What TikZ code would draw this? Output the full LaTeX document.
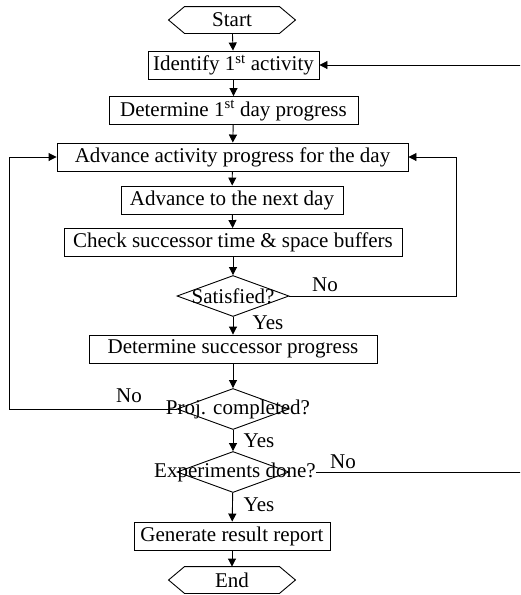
\documentclass[tikz,border=0pt]{standalone}
\usepackage{fontspec}
\setmainfont{Liberation Serif}
\usetikzlibrary{arrows.meta,shapes.geometric,calc}
\begin{document}
\begin{tikzpicture}[x=1pt,y=-1pt,
  every node/.style={font=\fontsize{21}{24}\selectfont},
  line width=0.9pt,
  box/.style={draw, minimum height=28pt, inner sep=0pt},
  hexn/.style={minimum height=26pt, minimum width=126pt, inner sep=0pt},
  dia/.style={draw, diamond, minimum width=112pt, minimum height=41pt, inner sep=0pt},
  txt/.style={inner sep=0pt},
  arr/.style={-{Triangle[length=8pt,width=8pt]}}]
\useasboundingbox (0,0) rectangle (520,595);
\clip (0,0) rectangle (520,595);

% nodes
\node[hexn] (start) at (232,20) {Start};
\node[box, minimum width=171pt] (ident) at (233.5,65) {Identify 1\textsuperscript{st} activity};
\node[box, minimum width=249pt] (det1) at (233.5,110.5) {Determine 1\textsuperscript{st} day progress};
\node[box, minimum width=351pt] (adv) at (232.5,157) {Advance activity progress for the day};
\node[box, minimum width=222pt] (next) at (232,200) {Advance to the next day};
\node[box, minimum width=338pt] (check) at (233,242.5) {Check successor time \& space buffers};
\node[dia] (sat) at (233,296) {};
\node[txt] (satT) at (233,296) {Satisfied?};
\node[box, minimum width=288pt] (dsucc) at (233,349) {Determine successor progress};
\node[dia] (proj) at (233,409) {};
\node[txt] (projT) at (238,409) {Proj. completed?};
\node[dia] (exp) at (233,472) {};
\node[txt] (expT) at (235,472) {Experiments done?};
\node[box, minimum width=196pt] (gen) at (232,536) {Generate result report};
\node[hexn] (end) at (232,580) {End};

% hexagon outlines
\foreach \h in {start,end}{
  \draw (\h.west) -- ([xshift=16pt]\h.north west) -- ([xshift=-16pt]\h.north east)
    -- (\h.east) -- ([xshift=-16pt]\h.south east) -- ([xshift=16pt]\h.south west) -- cycle;
}

% labels
\node[txt] (y1) at (268,323) {Yes};
\node[txt] (y2) at (259,441) {Yes};
\node[txt] (y3) at (259,505) {Yes};
\node[txt] (n1) at (325,285) {No};
\node[txt] (n2) at (129,396) {No};
\node[txt] (n3) at (343,462) {No};

\coordinate (rsat) at (456,296);
\coordinate (lproj) at (9,409);
\coordinate (rexp) at (521,472);

% connectors
\draw[arr] (start) -- (ident);
\draw[arr] (ident) -- (det1);
\draw[arr] (det1) -- (adv);
\draw[arr] (adv) -- (next);
\draw[arr] (next) -- (check);
\draw[arr] (check) -- (sat);
\draw[arr] (sat) -- (dsucc);
\draw[arr] (dsucc) -- (proj);
\draw[arr] (proj) -- (exp);
\draw[arr] (exp) -- (gen);
\draw[arr] (gen) -- (end);
\draw[arr] (sat.east) -- (rsat) |- (adv.east);
\draw[arr] (proj.west) -- (lproj) |- (adv.west);
\draw[arr] (expT.east) -- (rexp) |- (ident.east);
\end{tikzpicture}
\end{document}
